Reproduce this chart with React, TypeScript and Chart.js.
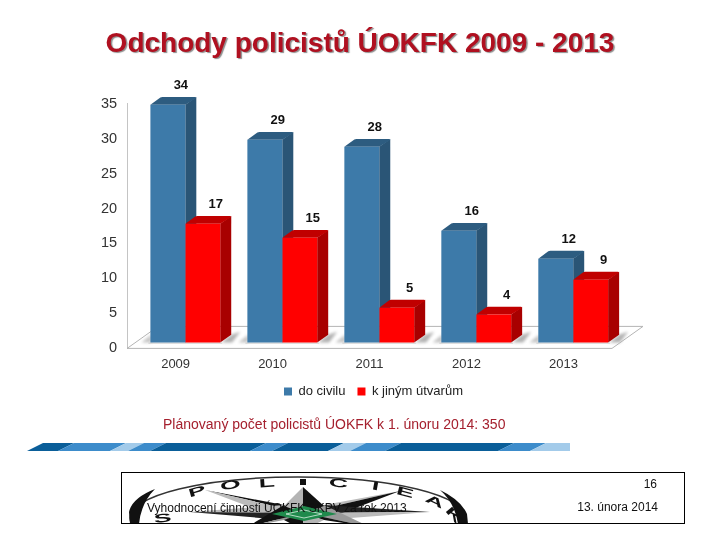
import React, { useEffect, useRef } from "react";
import { Chart, registerables } from "chart.js";

Chart.register(...registerables);

const categories = ["2009", "2010", "2011", "2012", "2013"];
const doCivilu = [34, 29, 28, 16, 12];
const kJinymUtvarum = [17, 15, 5, 4, 9];
const seriesNames = ["do civilu", "k jiným útvarům"];
const yTicks = [0, 5, 10, 15, 20, 25, 30, 35];
const titleText = "Odchody policistů ÚOKFK 2009 - 2013";
const noteText = "Plánovaný počet policistů ÚOKFK k 1. únoru 2014: 350";
const footerText = "Vyhodnocení činnosti ÚOKFK SKPV za rok 2013";
const footerPage = "16";
const footerDate = "13. února 2014";

const SANS = '"Liberation Sans", Arial, sans-serif';
const SHIFT_X = 9.7;
const SHIFT_Y = -5.8;
const DX = 11;
const DY = 7.8;
const FLOOR_DX = 31;
const FLOOR_DY = 22;
const LEGEND_SHIFT = 22;
const LEGEND_LIFT = 8;
const TITLE_SHIFT = 8.5;
const faces = [
  { side: "#2a5576", top: "#2d5c80" },
  { side: "#a80000", top: "#c00000" },
];

function drawFaces(chart: any, index: number) {
  const c = chart.ctx;
  const face = faces[index];
  chart.getDatasetMeta(index).data.forEach((bar: any) => {
    const x0 = bar.x - bar.width / 2;
    const x1 = bar.x + bar.width / 2;
    const top = bar.y;
    const base = bar.base;
    c.fillStyle = face.side;
    c.beginPath();
    c.moveTo(x1, top);
    c.lineTo(x1 + DX, top - DY);
    c.lineTo(x1 + DX, base - DY);
    c.lineTo(x1, base);
    c.closePath();
    c.fill();
    c.fillStyle = face.top;
    c.beginPath();
    c.moveTo(x0, top);
    c.lineTo(x0 + DX - 1, top - DY + 0.5);
    c.quadraticCurveTo(x0 + DX, top - DY, x0 + DX + 1, top - DY);
    c.lineTo(x1 + DX - 1, top - DY);
    c.lineTo(x1 + DX, top - DY + 1);
    c.lineTo(x1, top);
    c.closePath();
    c.fill();
  });
}

const depthPlugin = {
  id: "depth",
  afterLayout(chart: any) {
    chart.legend.left += LEGEND_SHIFT;
    chart.legend.right += LEGEND_SHIFT;
    chart.legend.top -= LEGEND_LIFT;
    chart.legend.bottom -= LEGEND_LIFT;
    chart.titleBlock.left += TITLE_SHIFT;
    chart.titleBlock.right += TITLE_SHIFT;
  },
  beforeDraw(chart: any) {
    const block = chart.titleBlock;
    if (block && !block.__wrapped) {
      const original = block.draw.bind(block);
      block.draw = (...args: any[]) => {
        const c = chart.ctx;
        c.save();
        c.shadowColor = "rgba(120,120,120,0.85)";
        c.shadowOffsetX = 1.5;
        c.shadowOffsetY = 1.5;
        c.shadowBlur = 1;
        original(...args);
        c.restore();
      };
      block.__wrapped = true;
    }
  },
  beforeDatasetsDraw(chart: any) {
    const c = chart.ctx;
    const { left, right, bottom } = chart.chartArea;
    c.save();
    c.beginPath();
    c.moveTo(left, bottom);
    c.lineTo(left + FLOOR_DX, bottom - FLOOR_DY);
    c.lineTo(right + FLOOR_DX, bottom - FLOOR_DY);
    c.lineTo(right, bottom);
    c.lineTo(left, bottom);
    c.strokeStyle = "#b4b4b4";
    c.lineWidth = 1;
    c.stroke();
    c.restore();

    c.save();
    c.translate(SHIFT_X, SHIFT_Y);
    const red = chart.getDatasetMeta(1).data;
    const blue = chart.getDatasetMeta(0).data;
    c.filter = "blur(1.5px)";
    c.fillStyle = "#b2b2b2";
    red.forEach((bar: any) => {
      const x = bar.x + bar.width / 2;
      const y = bar.base;
      c.beginPath();
      c.moveTo(x + 1, y);
      c.lineTo(x + DX, y - DY);
      c.lineTo(x + DX + 9, y - DY - 3);
      c.lineTo(x + 12, y);
      c.fill();
    });
    blue.forEach((bar: any) => {
      const x = bar.x - bar.width / 2;
      const y = bar.base;
      c.fillStyle = "#c4c4c4";
      c.beginPath();
      c.moveTo(x + 1, y);
      c.lineTo(x + 1, y - 8);
      c.lineTo(x - 9, y);
      c.fill();
    });
    c.filter = "none";
    c.fillStyle = "#c8c8c8";
    blue.forEach((bar: any, i: number) => {
      c.fillRect(bar.x - bar.width / 2 - 2, bar.base, red[i].x + red[i].width / 2 - bar.x + bar.width / 2 + 4, 1);
    });
    c.restore();

    c.save();
    c.translate(SHIFT_X, SHIFT_Y);
  },
  beforeDatasetDraw(chart: any, args: any) {
    // The library paints the last dataset first: extrude both series before that first paint.
    if (args.index === 1) {
      drawFaces(chart, 0);
      drawFaces(chart, 1);
    }
  },
  afterDatasetsDraw(chart: any) {
    const c = chart.ctx;
    c.fillStyle = "#111";
    c.font = `bold 13px ${SANS}`;
    c.textAlign = "center";
    c.textBaseline = "middle";
    chart.data.datasets.forEach((ds: any, i: number) => {
      chart.getDatasetMeta(i).data.forEach((bar: any, j: number) => {
        c.fillText(String(ds.data[j]), bar.x + 13, bar.y - 19);
      });
    });
    c.restore();
  },
};

const stripes: [number, number, string][] = [
  [27, 58, "#0a5e99"],
  [58, 110, "#3d8ccb"],
  [110, 128, "#a3cbea"],
  [128, 150, "#3d8ccb"],
  [150, 250, "#0a5e99"],
  [250, 272, "#3d8ccb"],
  [272, 328, "#0a5e99"],
  [328, 350, "#a3cbea"],
  [350, 385, "#3d8ccb"],
  [385, 498, "#0a5e99"],
  [498, 530, "#3d8ccb"],
  [530, 570, "#a3cbea"],
];

const emblemLetters: [string, number, number, number][] = [
  ["S", 163, 522, -6],
  ["P", 198, 495, -16],
  ["O", 231, 489, -9],
  ["L", 267, 487, -4],
  ["C", 338, 487, 5],
  ["I", 375, 490, 10],
  ["E", 404, 496, 15],
  ["A", 433, 505, 24],
  ["K", 451, 518, 50],
];

const starPoints: [number, number, string, string][] = [
  [205, 490, "#111", "#bbb"],
  [190, 512, "#bbb", "#222"],
  [247, 527, "#111", "#999"],
  [400, 491, "#bbb", "#111"],
  [430, 512, "#222", "#bbb"],
  [370, 527, "#999", "#111"],
];

function Decor() {
  return (
    <svg
      width={720}
      height={540}
      style={{ position: "absolute", left: 0, top: 0, pointerEvents: "none" }}
    >
      {stripes.map(([a, b, fill], i) => (
        <polygon
          key={i}
          points={
            i === stripes.length - 1
              ? `${a},451 ${a + 16},443 ${b},443 ${b},451`
              : `${a},451 ${a + 16},443 ${b + 16},443 ${b},451`
          }
          fill={fill}
        />
      ))}
      <defs>
        <clipPath id="box">
          <rect x={121} y={472} width={563} height={52} />
        </clipPath>
      </defs>
      <g clipPath="url(#box)">
        <ellipse cx={298} cy={518} rx={168} ry={41} fill="none" stroke="#333" strokeWidth={1.4} />
        <path d="M129 512 Q132 498 155 489 Q141 503 139 524 L130 524 Z" fill="#111" />
        <path d="M467 514 Q461 500 440 490 Q455 503 458 524 L468 524 Z" fill="#111" />
        {emblemLetters.map(([ch, x, y, rot]) => (
          <text
            key={ch + x}
            transform={`translate(${x} ${y}) rotate(${rot}) scale(1.9 0.85)`}
            fontFamily={SANS}
            fontWeight={700}
            fontSize={14}
            fill="#111"
            textAnchor="middle"
          >
            {ch}
          </text>
        ))}
        <rect x={300} y={479} width={6} height={6} fill="#111" />
        {starPoints.map(([x, y, a, b], i) => (
          <g key={i}>
            <polygon points={`${x},${y} 304,513 ${x < 304 ? 284 : 324},505`} fill={a} />
            <polygon points={`${x},${y} 304,513 ${x < 304 ? 284 : 324},520`} fill={b} />
          </g>
        ))}
        <polygon points="303,487 284,506 303,513" fill="#b4b4b4" />
        <polygon points="303,487 324,506 303,513" fill="#111" />
        <polygon points="303,530 284,520 303,513" fill="#111" />
        <polygon points="303,530 324,520 303,513" fill="#b4b4b4" />
        <polygon points="272,514 304,506 337,514 304,521" fill="#1f8a4c" />
        <polygon points="286,514 304,510 322,514 304,518" fill="none" stroke="#d8efe0" strokeWidth={0.8} />
      </g>
      <rect x={121.5} y={472.5} width={563} height={51} fill="none" stroke="#000" strokeWidth={1} />
    </svg>
  );
}

const textBase: React.CSSProperties = {
  position: "absolute",
  fontFamily: SANS,
  whiteSpace: "nowrap",
  lineHeight: "16px",
};

export default function App() {
  const ref = useRef<HTMLCanvasElement>(null);
  useEffect(() => {
    const chart = new Chart(ref.current as HTMLCanvasElement, {
      type: "bar",
      data: {
        labels: categories,
        datasets: [
          { label: seriesNames[0], data: doCivilu, backgroundColor: "#3d7aa9", clip: false },
          { label: seriesNames[1], data: kJinymUtvarum, backgroundColor: "#ff0000", clip: false },
        ],
      } as any,
      options: {
        animation: false,
        responsive: false,
        devicePixelRatio: 1,
        layout: { padding: { left: 91, right: 108, top: 0, bottom: 124 } },
        datasets: { bar: { categoryPercentage: 0.72, barPercentage: 1 } },
        plugins: {
          title: {
            display: true,
            text: titleText,
            color: "#b01020",
            font: { family: SANS, size: 28, weight: "bold" },
            padding: { top: 27, bottom: 43 },
          },
          legend: {
            position: "bottom",
            labels: {
              boxWidth: 8,
              boxHeight: 8,
              padding: 12,
              color: "#222",
              font: { family: SANS, size: 13 },
            },
          },
          tooltip: { enabled: false },
        },
        scales: {
          x: {
            grid: { display: false, tickLength: 0 },
            border: { display: false },
            ticks: { color: "#333", font: { family: SANS, size: 13 }, padding: 8.5 },
          },
          y: {
            min: yTicks[0],
            max: yTicks[yTicks.length - 1],
            grid: { display: false, tickLength: 0 },
            border: { display: true, color: "#c4c4c4" },
            ticks: {
              stepSize: 5,
              color: "#333",
              font: { family: SANS, size: 14.5 },
              padding: 10,
            },
          },
        },
      },
      plugins: [depthPlugin],
    } as any);
    return () => chart.destroy();
  }, []);

  return (
    <div style={{ position: "absolute", left: 0, top: 0, width: 720, height: 540, background: "#fff", overflow: "hidden" }}>
      <canvas ref={ref} width={720} height={540} style={{ position: "absolute", left: 0, top: 0, width: 720, height: 540 }} />
      <Decor />
      <div style={{ ...textBase, left: 163, top: 416, fontSize: 14, color: "#a5202e" }}>{noteText}</div>
      <div style={{ ...textBase, left: 147, top: 500, fontSize: 12, color: "#111" }}>{footerText}</div>
      <div style={{ ...textBase, right: 63, top: 476, fontSize: 12, color: "#111" }}>{footerPage}</div>
      <div style={{ ...textBase, right: 62, top: 499, fontSize: 12, color: "#111" }}>{footerDate}</div>
    </div>
  );
}
